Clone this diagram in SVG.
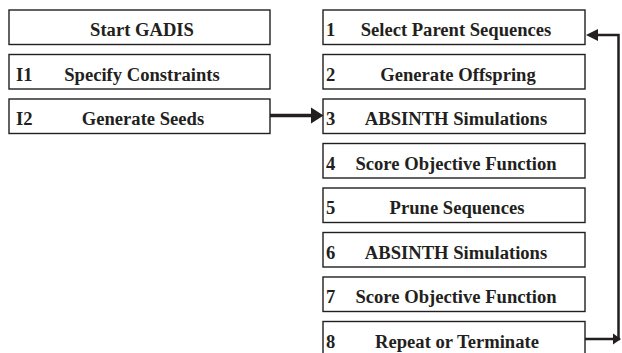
<svg xmlns="http://www.w3.org/2000/svg" width="622" height="353" viewBox="0 0 622 353">
<style>
.box{fill:#fff;stroke:#231f20;stroke-width:1.4}
text{font-family:'Liberation Serif',serif;font-weight:700;font-size:18.6px;fill:#231f20}
.m{text-anchor:middle}
.ln{fill:none;stroke:#231f20;stroke-linejoin:miter}
.ah{fill:#231f20}
</style>
<rect width="622" height="353" fill="#fff"/>
<g id="start"><rect class="box" x="9" y="10" width="261" height="34.5"/><text class="m" x="142" y="36">Start GADIS</text></g>
<g id="i1"><rect class="box" x="9" y="54.5" width="261" height="34.5"/><text x="16" y="80.5">I1</text><text class="m" x="142" y="80.5">Specify Constraints</text></g>
<g id="i2"><rect class="box" x="9" y="99" width="261" height="34.5"/><text x="16" y="125">I2</text><text class="m" x="143" y="125">Generate Seeds</text></g>
<g id="s1"><rect class="box" x="323" y="10" width="262" height="34.5"/><text x="326" y="36">1</text><text class="m" x="456" y="36">Select Parent Sequences</text></g>
<g id="s2"><rect class="box" x="323" y="54.5" width="262" height="34.5"/><text x="326" y="80.5">2</text><text class="m" x="458" y="80.5">Generate Offspring</text></g>
<g id="s3"><rect class="box" x="323" y="99" width="262" height="34.5"/><text x="326" y="125">3</text><text class="m" x="456" y="125">ABSINTH Simulations</text></g>
<g id="s4"><rect class="box" x="323" y="143.5" width="262" height="34.5"/><text x="326" y="169.5">4</text><text class="m" x="456" y="169.5">Score Objective Function</text></g>
<g id="s5"><rect class="box" x="323" y="188" width="262" height="34.5"/><text x="326" y="214">5</text><text class="m" x="457" y="214">Prune Sequences</text></g>
<g id="s6"><rect class="box" x="323" y="232.5" width="262" height="34.5"/><text x="326" y="258.5">6</text><text class="m" x="456" y="258.5">ABSINTH Simulations</text></g>
<g id="s7"><rect class="box" x="323" y="277" width="262" height="34.5"/><text x="326" y="303">7</text><text class="m" x="456" y="303">Score Objective Function</text></g>
<g id="s8"><rect class="box" x="323" y="321.5" width="262" height="40"/><text x="326" y="347.5">8</text><text class="m" x="457" y="347.5">Repeat or Terminate</text></g>
<g id="connectors">
<line class="ln" x1="270" y1="115.5" x2="312" y2="115.5" stroke-width="3.5"/>
<polygon class="ah" points="311,107.5 323.5,115.5 311,123.5"/>
<polyline class="ln" points="585,339 618.5,339 618.5,35 597,35" stroke-width="2.5"/>
<polygon class="ah" points="613,333.5 621,339 613,344.5"/>
<polygon class="ah" points="598,29 586,35 598,41"/>
</g>
</svg>
